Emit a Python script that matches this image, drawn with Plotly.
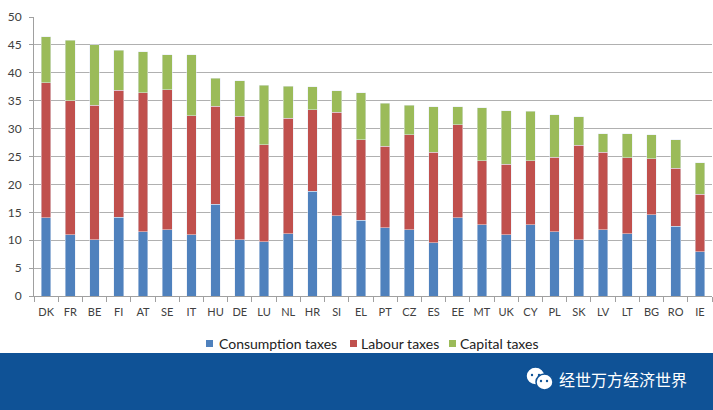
import plotly.graph_objects as go

countries = ["DK","FR","BE","FI","AT","SE","IT","HU","DE","LU","NL","HR","SI","EL",
             "PT","CZ","ES","EE","MT","UK","CY","PL","SK","LV","LT","BG","RO","IE"]
# cumulative readings (blue top, red top, total)
blue_top = [14.0,11.0,10.1,14.1,11.5,11.9,11.0,16.4,10.1,9.7,11.2,18.8,14.4,13.6,
            12.2,11.9,9.5,14.0,12.8,11.0,12.8,11.5,10.1,11.9,11.2,14.6,12.5,7.9]
red_top = [38.2,35.0,34.2,36.9,36.4,37.0,32.3,34.0,32.2,27.1,31.9,33.4,32.9,28.0,
           26.8,28.9,25.8,30.7,24.2,23.6,24.2,24.9,27.0,25.8,24.8,24.6,22.9,18.2]
total = [46.5,45.8,45.0,44.0,43.8,43.2,43.2,39.0,38.6,37.8,37.6,37.5,36.8,36.4,
         34.5,34.2,33.9,33.9,33.7,33.2,33.1,32.5,32.1,29.1,29.1,28.9,28.0,23.9]

series_names = ["Consumption taxes", "Labour taxes", "Capital taxes"]
series_colors = ["#4F81BD", "#C0504D", "#9BBB59"]

consumption = blue_top
labour = [round(r - b, 2) for r, b in zip(red_top, blue_top)]
capital = [round(t - r, 2) for t, r in zip(total, red_top)]

W, H = 713, 410
L, R, T, B = 34, 712, 17, 296

def px(x):
    return (x - L) / (R - L)

def py(y):
    return (B - y) / (B - T)

font = "Lato, 'Noto Sans', sans-serif"

fig = go.Figure()
for vals, name, col in zip([consumption, labour, capital], series_names, series_colors):
    fig.add_bar(x=countries, y=vals, name=name, marker_color=col)

shapes = [
    dict(type="rect", xref="paper", yref="paper", x0=px(-5), x1=px(W + 5),
         y0=py(353), y1=py(H + 5), fillcolor="#0F5296", line_width=0, layer="above"),
    dict(type="circle", xref="paper", yref="paper", x0=px(526), x1=px(545),
         y0=py(367), y1=py(385), fillcolor="white", line=dict(color="#0F5296", width=1.5), layer="above"),
    dict(type="circle", xref="paper", yref="paper", x0=px(536), x1=px(553),
         y0=py(374), y1=py(390), fillcolor="white", line=dict(color="#0F5296", width=1.5), layer="above"),
]
for cx, cy in [(532, 375), (539, 375), (541, 381), (547, 381)]:
    shapes.append(dict(type="circle", xref="paper", yref="paper", x0=px(cx - 1.2), x1=px(cx + 1.2),
                       y0=py(cy - 1.2), y1=py(cy + 1.2), fillcolor="#0F5296", line_width=0, layer="above"))

# manual legend (square + text)
annotations = []
for (sq_x, tx_x), name, col in zip([(206, 217), (350, 359), (449, 458)], series_names, series_colors):
    shapes.append(dict(type="rect", xref="paper", yref="paper", x0=px(sq_x), x1=px(sq_x + 7),
                       y0=py(340), y1=py(347), fillcolor=col, line_width=0))
    annotations.append(dict(text=name, xref="paper", yref="paper", x=px(tx_x), y=py(343.5),
                            showarrow=False, xanchor="left", yanchor="middle",
                            font=dict(size=14, color="#222222")))

annotations.append(dict(text="经世万方经济世界", xref="paper", yref="paper", x=px(623), y=py(379),
                        showarrow=False, font=dict(family="Noto Sans CJK SC", size=16, color="white"),
                        xanchor="center", yanchor="middle"))

fig.update_layout(
    barmode="stack",
    bargap=0.6,
    width=W, height=H,
    margin=dict(l=L, r=W - R, t=T, b=H - B),
    paper_bgcolor="white", plot_bgcolor="white",
    font=dict(family=font, size=11, color="#404040"),
    showlegend=False,
    xaxis=dict(showline=True, linecolor="#A0A0A0", linewidth=1, ticks="outside",
               tickson="boundaries", ticklen=5, tickcolor="#A0A0A0", showgrid=False,
               tickangle=0, automargin=False, ticklabelstandoff=6,
               tickfont=dict(size=11, color="#404040")),
    yaxis=dict(range=[0, 50], dtick=5, showline=True, linecolor="#A0A0A0", linewidth=1,
               showgrid=True, gridcolor="#B0B0B0", gridwidth=1, ticks="outside",
               ticklen=4, tickcolor="#A0A0A0", tickfont=dict(size=12, color="#404040"),
               zeroline=False, automargin=False, ticklabelstandoff=5),
    shapes=shapes,
    annotations=annotations,
)

fig.write_html("out.html", config={"displayModeBar": False},
               post_script="document.body.style.margin='0';document.body.style.overflow='hidden';")
